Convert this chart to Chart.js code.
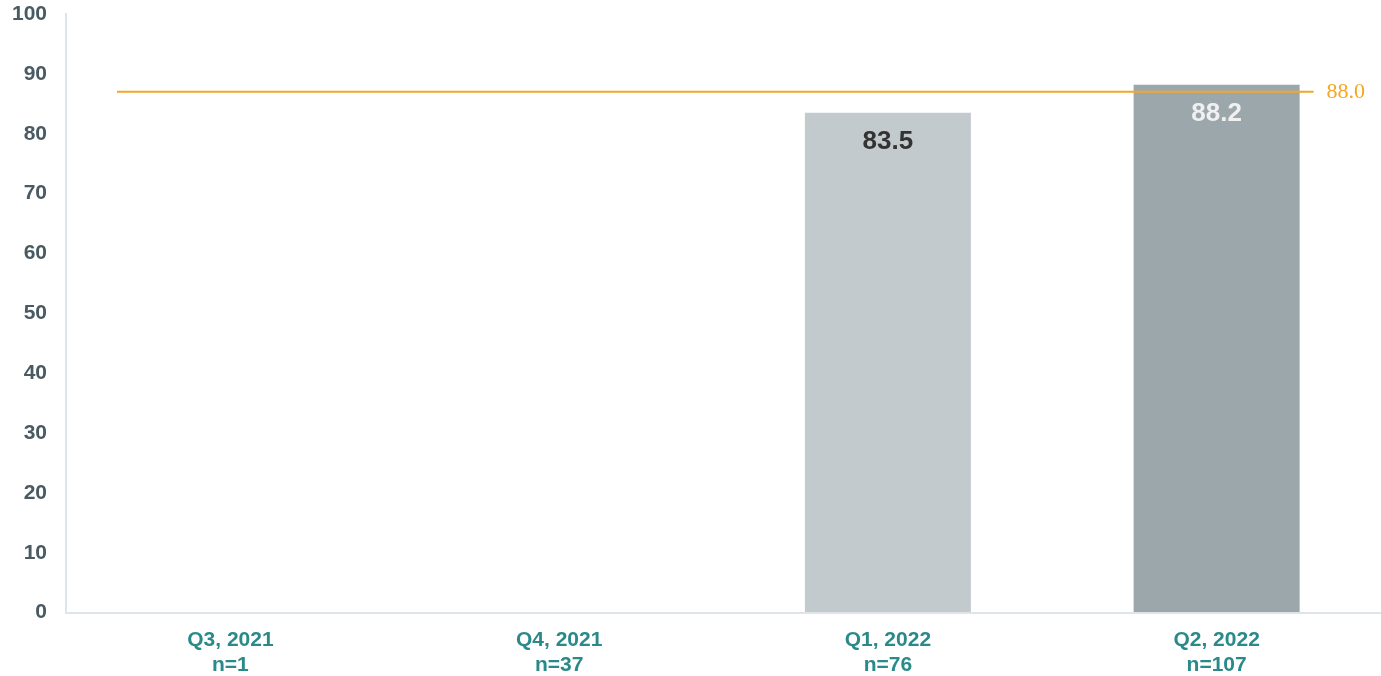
<!DOCTYPE html>
<html>
<head>
<meta charset="utf-8">
<script src="https://cdn.jsdelivr.net/npm/chart.js@4/dist/chart.umd.min.js"></script>
<style>
html,body{margin:0;padding:0;background:#fff;}
#wrap{width:1381px;height:676px;position:relative;}
</style>
</head>
<body>
<div id="wrap"><canvas id="c"></canvas></div>
<script>
const categories = [["Q3, 2021","n=1"],["Q4, 2021","n=37"],["Q1, 2022","n=76"],["Q2, 2022","n=107"]];
const scores = [null, null, 83.5, 88.2];
const barColors = ["#c3cacd","#c3cacd","#c3cacd","#9ca7ac"];
const labelColors = ["#333333","#333333","#333333","#f0f0f0"];
const benchmarkValue = 87.0;
const benchmarkLabel = "88.0";
const yTicks = [0,10,20,30,40,50,60,70,80,90,100];

const barLabelPlugin = {
  id: 'barLabels',
  afterDatasetsDraw(chart) {
    const ctx = chart.ctx;
    const meta = chart.getDatasetMeta(0);
    ctx.save();
    ctx.font = 'bold 26px "Liberation Sans", Arial, sans-serif';
    ctx.textAlign = 'center';
    ctx.textBaseline = 'middle';
    meta.data.forEach((bar, i) => {
      const v = scores[i];
      if (v === null || v === undefined) return;
      ctx.fillStyle = labelColors[i];
      ctx.fillText(v.toFixed(1), bar.x, bar.y + 29);
    });
    ctx.restore();
  }
};

const benchmarkPlugin = {
  id: 'benchmark',
  afterDatasetsDraw(chart) {
    const ctx = chart.ctx;
    const x = chart.scales.x, y = chart.scales.y;
    const w = x.getPixelForValue(1) - x.getPixelForValue(0);
    const yp = y.getPixelForValue(benchmarkValue);
    const x0 = x.getPixelForValue(0) - 0.345 * w;
    const x1 = x.getPixelForValue(categories.length - 1) + 0.295 * w;
    ctx.save();
    ctx.strokeStyle = '#f5a623';
    ctx.lineWidth = 2;
    ctx.beginPath();
    ctx.moveTo(x0, yp);
    ctx.lineTo(x1, yp);
    ctx.stroke();
    ctx.fillStyle = '#f5a623';
    ctx.font = '22px "Liberation Serif", "Times New Roman", serif';
    ctx.textAlign = 'left';
    ctx.textBaseline = 'middle';
    ctx.fillText(benchmarkLabel, x1 + 13, yp);
    ctx.restore();
  }
};

new Chart(document.getElementById('c'), {
  type: 'bar',
  data: {
    labels: categories,
    datasets: [{
      data: scores,
      backgroundColor: barColors,
      borderWidth: 0,
      categoryPercentage: 1.0,
      barPercentage: 0.505
    }]
  },
  options: {
    responsive: true,
    maintainAspectRatio: false,
    animation: false,
    layout: { padding: { top: 14, left: 12, right: 0, bottom: -2 } },
    plugins: { legend: { display: false }, tooltip: { enabled: false } },
    scales: {
      x: {
        grid: { display: true, drawOnChartArea: false, drawTicks: true, tickLength: 15, color: 'rgba(0,0,0,0)' },
        border: { display: true, color: '#dfe4e8', width: 2 },
        ticks: {
          color: '#2a8a8a',
          font: { family: '"Liberation Sans", Arial, sans-serif', size: 21, weight: 'bold', lineHeight: 1.2 },
          padding: 0,
          maxRotation: 0,
          autoSkip: false
        }
      },
      y: {
        min: 0, max: 100,
        afterBuildTicks(axis) { axis.ticks = yTicks.map(v => ({ value: v })); },
        grid: { display: true, drawOnChartArea: false, drawTicks: true, tickLength: 19, color: 'rgba(0,0,0,0)' },
        border: { display: true, color: '#dfe4e8', width: 2 },
        ticks: {
          color: '#4a5a63',
          font: { family: '"Liberation Sans", Arial, sans-serif', size: 21, weight: 'bold' },
          padding: 0
        }
      }
    }
  },
  plugins: [barLabelPlugin, benchmarkPlugin]
});
</script>
</body>
</html>
